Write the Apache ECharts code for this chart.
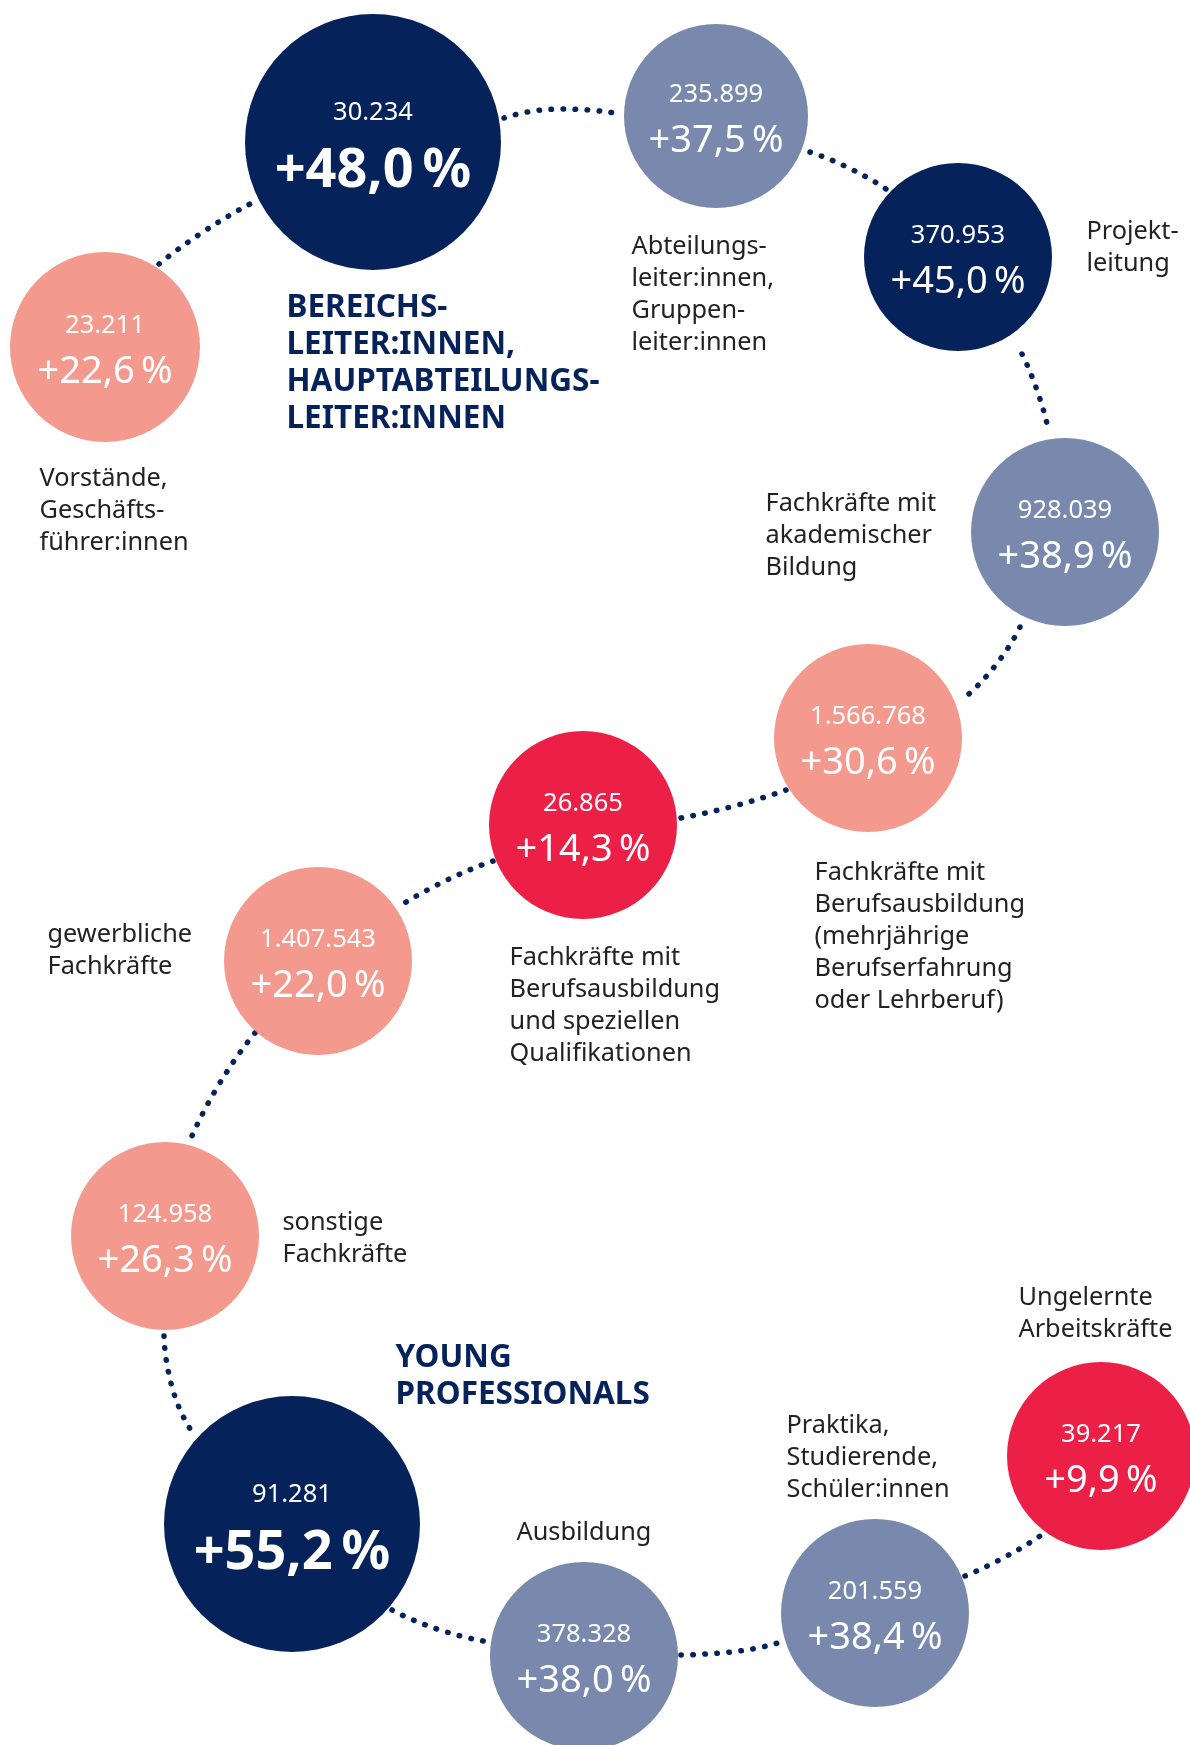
<!DOCTYPE html>
<html>
<head>
<meta charset="utf-8">
<script src="https://cdn.jsdelivr.net/npm/echarts@6/dist/echarts.min.js"></script>
<style>
html,body{margin:0;padding:0;background:#fff;}
#chart{width:1190px;height:1745px;}
</style>
</head>
<body>
<div id="chart"></div>
<script>
// ---------- DATA ----------
const categories = [
  'Vorstände,\nGeschäfts-\nführer:innen',
  'BEREICHS-\nLEITER:INNEN,\nHAUPTABTEILUNGS-\nLEITER:INNEN',
  'Abteilungs-\nleiter:innen,\nGruppen-\nleiter:innen',
  'Projekt-\nleitung',
  'Fachkräfte mit\nakademischer\nBildung',
  'Fachkräfte mit\nBerufsausbildung\n(mehrjährige\nBerufserfahrung\noder Lehrberuf)',
  'Fachkräfte mit\nBerufsausbildung\nund speziellen\nQualifikationen',
  'gewerbliche\nFachkräfte',
  'sonstige\nFachkräfte',
  'YOUNG\nPROFESSIONALS',
  'Ausbildung',
  'Praktika,\nStudierende,\nSchüler:innen',
  'Ungelernte\nArbeitskräfte'
];
const counts = [23211, 30234, 235899, 370953, 928039, 1566768, 26865, 1407543, 124958, 91281, 378328, 201559, 39217];
const growthPct = [22.6, 48.0, 37.5, 45.0, 38.9, 30.6, 14.3, 22.0, 26.3, 55.2, 38.0, 38.4, 9.9];

// ---------- LAYOUT / STYLE (not data) ----------
const NAVY = '#05235a', GREY = '#7889ad', SALMON = '#f4998d', RED = '#ec2046', TXT = '#222222';
// circle centre x, y, radius, colour, emphasis(big)
const bubbleLayout = [
  [105, 347, 95, SALMON, 0],
  [373, 142, 128, NAVY, 1],
  [716, 116, 92, GREY, 0],
  [958, 257, 94, NAVY, 0],
  [1065, 532, 94, GREY, 0],
  [868, 738, 94, SALMON, 0],
  [583, 825, 94, RED, 0],
  [318, 961, 94, SALMON, 0],
  [165, 1236, 94, SALMON, 0],
  [292, 1524, 128, NAVY, 1],
  [584, 1656, 94, GREY, 0],
  [875, 1613, 94, GREY, 0],
  [1101, 1456, 94, RED, 0]
];
// label anchor: x, top, header flag
const labelLayout = [
  [40, 463, 0],
  [287, 290, 1],
  [632, 231, 0],
  [1087, 216, 0],
  [766, 488, 0],
  [815, 857, 0],
  [510, 942, 0],
  [48, 919, 0],
  [283, 1207, 0],
  [396, 1340, 1],
  [517, 1517, 0],
  [787, 1410, 0],
  [1019, 1282, 0]
];
// dotted connectors: start, bend, end
const connectorLayout = [
  [[159, 264], [203, 232], [250, 204]],
  [[504, 118], [562, 109], [620, 114]],
  [[810, 152], [849, 168], [886, 189]],
  [[1022, 354], [1038, 393], [1049, 433]],
  [[1020, 627], [995, 666], [963, 699]],
  [[786, 790], [734, 806], [681, 818]],
  [[493, 861], [447, 880], [403, 904]],
  [[255, 1033], [218, 1086], [189, 1143]],
  [[164, 1336], [172, 1387], [195, 1436]],
  [[392, 1610], [440, 1630], [490, 1642]],
  [[681, 1655], [731, 1652], [781, 1642]],
  [[965, 1576], [1005, 1557], [1043, 1534]]
];

function fmtCount(v) {
  return String(v).replace(/\B(?=(\d{3})+(?!\d))/g, '.');
}
function fmtPct(v) {
  return '+' + v.toFixed(1).replace('.', ',') + '\u2009%';
}

const FONT = '"Noto Sans", "Open Sans", sans-serif';

const chart = echarts.init(document.getElementById('chart'), null, {renderer: 'canvas'});

const connectorSeries = connectorLayout.map(seg => ({
  type: 'line',
  data: seg,
  smooth: 0.6,
  symbol: 'none',
  silent: true,
  z: 1,
  lineStyle: {color: NAVY, width: 5.5, type: [0.5, 11.5], cap: 'round', opacity: 1}
}));

const bubbleData = counts.map((c, i) => {
  const L = bubbleLayout[i];
  return {
    value: [L[0], L[1]],
    symbolSize: L[2] * 2,
    itemStyle: {color: L[3], opacity: 1},
    label: {
      show: true,
      position: 'inside',
      offset: [0, 3],
      formatter: (L[4] ? '{nb|' : '{n|') + fmtCount(c) + '}\n' + (L[4] ? '{pb|' : '{p|') + fmtPct(growthPct[i]) + '}',
      rich: {
        n: {fontFamily: FONT, fontSize: 25.5, color: '#fff', lineHeight: 44, align: 'center'},
        p: {fontFamily: FONT, fontSize: 38, color: '#fff', lineHeight: 48, align: 'center'},
        nb: {fontFamily: FONT, fontSize: 25.5, color: '#fff', lineHeight: 54, align: 'center'},
        pb: {fontFamily: FONT, fontSize: 54, fontWeight: 'bold', color: '#fff', lineHeight: 64, align: 'center'}
      }
    }
  };
});

const labelData = categories.map((t, i) => {
  const L = labelLayout[i];
  const hdr = L[2] === 1;
  return {
    value: [L[0], L[1]],
    itemStyle: {color: 'rgba(0,0,0,0)', opacity: 1},
    label: {
      show: true,
      position: [0, 0],
      align: 'left',
      verticalAlign: 'top',
      formatter: t,
      fontFamily: FONT,
      fontSize: hdr ? 31.5 : 25.3,
      fontWeight: hdr ? 'bold' : 'normal',
      lineHeight: hdr ? 37 : 32,
      color: hdr ? NAVY : TXT,
      opacity: 1
    }
  };
});

chart.setOption({
  animation: false,
  backgroundColor: '#ffffff',
  grid: {left: 0, right: 0, top: 0, bottom: 0},
  xAxis: {type: 'value', min: 0, max: 1190, show: false},
  yAxis: {type: 'value', min: 0, max: 1745, inverse: true, show: false},
  series: connectorSeries.concat([
    {
      type: 'scatter',
      name: 'bubbles',
      symbol: 'circle',
      clip: false,
      silent: true,
      z: 3,
      itemStyle: {opacity: 1},
      data: bubbleData
    },
    {
      type: 'scatter',
      name: 'labels',
      symbolSize: 1,
      clip: false,
      silent: true,
      z: 4,
      itemStyle: {opacity: 1},
      data: labelData
    }
  ])
});
</script>
</body>
</html>
